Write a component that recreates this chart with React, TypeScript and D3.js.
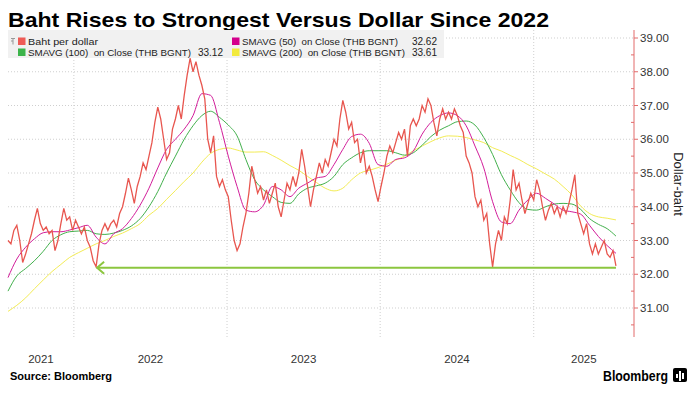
import React, { useRef, useEffect } from "react";
import * as d3 from "d3";

// weekly closes, Baht per dollar, starting 2021-07-28
const weekStart = new Date(2021, 6, 28);
const axisEnd = new Date(2025, 7, 28);

const bahtWeekly = [
  33.0, 32.9, 33.3, 33.45, 33.0, 32.35, 32.6, 32.9, 33.2, 33.6,
  33.95, 33.5, 33.3, 33.4, 33.2, 33.3, 32.7, 33.0, 33.5, 33.95,
  33.6, 33.7, 33.3, 33.6, 33.4, 33.2, 33.4, 33.0, 32.8, 32.4,
  32.22, 32.9, 33.3, 33.5, 33.3, 33.5, 33.6, 33.4, 33.8, 34.0,
  34.4, 34.85, 34.5, 34.1, 34.6, 34.9, 35.3, 35.1, 35.5, 35.9,
  36.5, 36.95, 36.6, 36.0, 35.4, 35.6, 36.3, 36.6, 37.0, 36.6,
  37.3, 37.9, 38.4, 38.0, 38.3, 37.9, 37.6, 37.2, 36.0, 35.6,
  36.1, 34.9, 34.6, 34.8, 34.5, 34.3, 33.6, 33.0, 32.7, 32.9,
  33.4, 33.8, 34.4, 35.2, 34.8, 34.4, 34.6, 34.2, 34.5, 34.1,
  34.4, 34.7, 34.0, 33.7, 34.2, 34.7, 34.5, 34.9, 34.6, 35.0,
  35.7, 35.2, 34.6, 34.0, 34.5, 34.9, 35.3, 35.0, 35.4, 35.2,
  35.6, 36.0, 35.8, 36.6, 37.15, 36.8, 36.3, 36.5, 35.9, 36.0,
  35.3, 35.7, 35.0, 35.2, 34.9, 34.5, 34.15, 34.6, 35.0, 35.5,
  35.8, 35.6, 35.9, 36.2, 36.0, 36.3, 35.5, 36.4, 36.6, 36.4,
  36.6, 37.0, 36.8, 37.2, 37.0, 36.5, 36.1, 36.6, 36.9, 36.6,
  36.8, 36.6, 36.9, 36.7, 36.4, 36.2, 35.5, 35.3, 35.0, 34.3,
  34.0, 34.2, 33.6, 33.8, 32.9, 32.22, 32.9, 33.3, 33.0, 33.7,
  33.5, 34.2, 35.1, 34.5, 34.7, 34.2, 33.8, 34.1, 34.4, 34.2,
  34.8, 34.5, 34.0, 33.6, 33.9, 34.1, 33.8, 34.0, 33.7, 34.0,
  33.8, 34.1, 34.5, 34.95, 33.8, 33.5, 33.2, 33.5, 32.9, 32.6,
  32.9, 32.6, 32.8, 33.0, 32.6, 32.5, 32.7, 32.25
];

// moving averages, one reading every third week
const sma50 = [
  31.9, 32.45, 32.8, 33.05, 33.23, 33.26, 33.26, 33.31, 33.38, 33.45,
  33.1, 32.9, 33.2, 33.35, 33.65, 34.05, 34.55, 35.15, 35.7, 36.0,
  36.3, 36.7, 37.35, 37.3, 36.5, 35.5, 34.6, 33.9, 33.85, 34.05,
  34.6, 34.5, 34.3, 34.55, 34.7, 34.85, 34.9, 35.25, 35.7, 36.08,
  36.15, 35.88, 35.25, 35.2, 35.4, 35.45, 35.65, 36.15, 36.5, 36.7,
  36.78, 36.7, 36.4, 35.8, 35.15, 34.15, 33.55, 33.5, 33.9, 34.2,
  34.4, 34.25, 34.08, 33.9, 33.85, 33.78, 33.45, 33.12, 32.85, 32.62
];
const sma100 = [
  31.5, 31.95, 32.17, 32.4, 32.68, 33.0, 33.17, 33.26, 33.28, 33.3,
  33.2, 33.18, 33.22, 33.3, 33.43, 33.65, 34.0, 34.45, 35.0, 35.5,
  36.0, 36.4, 36.7, 36.83, 36.65, 36.42, 36.1, 35.4, 34.8, 34.5,
  34.3, 34.13, 34.1, 34.38, 34.55, 34.62, 34.7, 34.9, 35.25, 35.45,
  35.6, 35.66, 35.66, 35.66, 35.6, 35.53, 35.6, 35.82, 36.08, 36.27,
  36.4, 36.52, 36.54, 36.42, 36.05, 35.55, 34.95, 34.5, 34.12, 33.92,
  33.9, 34.0, 34.08, 34.1, 34.08, 33.92, 33.65, 33.48, 33.35, 33.13
];
const sma200 = [
  30.9, 31.08, 31.3, 31.57, 31.83, 32.08, 32.29, 32.5, 32.64, 32.77,
  32.9, 33.0, 33.12, 33.22, 33.35, 33.5, 33.75, 33.95, 34.22, 34.48,
  34.75, 35.0, 35.32, 35.58, 35.7, 35.74, 35.68, 35.62, 35.62, 35.63,
  35.52, 35.38, 35.22, 35.08, 34.9, 34.72, 34.55, 34.47, 34.55, 34.8,
  35.0, 35.08, 35.16, 35.26, 35.38, 35.5, 35.66, 35.8, 35.93, 36.04,
  36.1, 36.09, 36.05, 35.98, 35.9, 35.75, 35.65, 35.52, 35.4, 35.25,
  35.12, 34.97, 34.82, 34.6, 34.35, 34.02, 33.8, 33.7, 33.66, 33.61
];

const yTicks = [31, 32, 33, 34, 35, 36, 37, 38, 39];
const yearLabels = ["2021", "2022", "2023", "2024", "2025"];

// Feb 2022 low, carried to the latest reading
const lowWeek = 30;
const lowLevel = 32.19;

const legendLabels = [
  "Baht per dollar",
  "SMAVG (50)  on Close (THB BGNT)",
  "SMAVG (100)  on Close (THB BGNT)",
  "SMAVG (200)  on Close (THB BGNT)",
];
const legendValues = ["", "32.62", "33.12", "33.61"];
const legendColors = ["#ee5b55", "#d4008c", "#3cb44a", "#f2ea3c"];

const Chart = () => {
  const svgRef = useRef<SVGSVGElement>(null);

  useEffect(() => {
    const W = 692, H = 394;
    const left = 8, right = 634, top = 30, bottom = 337;
    const font = "'Liberation Sans', Arial, sans-serif";

    const svg = d3.select(svgRef.current).attr("width", W).attr("height", H);
    svg.selectAll("*").remove();

    const x = d3.scaleTime().domain([weekStart, axisEnd]).range([left, right]);
    const y = d3.scaleLinear().domain([31, 39]).range([308, 38]);

    const weekDate = (i: number) => d3.timeDay.offset(weekStart, i * 7);

    // title
    svg.append("text")
      .attr("x", 8).attr("y", 27)
      .attr("font-family", font).attr("font-weight", "bold")
      .attr("font-size", 21).attr("textLength", 541)
      .attr("lengthAdjust", "spacingAndGlyphs")
      .attr("fill", "#000")
      .text("Baht Rises to Strongest Versus Dollar Since 2022");

    // grid
    const grid = svg.append("g").attr("stroke", "#cfcfcf").attr("stroke-dasharray", "1,2");
    grid.selectAll("line.h").data(yTicks).enter().append("line")
      .attr("x1", left).attr("x2", right)
      .attr("y1", d => y(d)).attr("y2", d => y(d));
    const yearStarts = yearLabels.map(s => new Date(+s, 0, 1));
    grid.selectAll("line.v").data(yearStarts.filter(d => x(d) > left)).enter().append("line")
      .attr("x1", d => x(d)).attr("x2", d => x(d))
      .attr("y1", top).attr("y2", bottom);

    // moving averages
    const maLine = d3.line<number>()
      .x((_, i) => x(weekDate(i * 3)))
      .y(d => y(d))
      .curve(d3.curveMonotoneX);
    const mas: [number[], string][] = [
      [sma200, "#f3ec55"],
      [sma100, "#42b04c"],
      [sma50, "#d21d9a"],
    ];
    mas.forEach(([vals, col]) => {
      svg.append("path").attr("d", maLine(vals))
        .attr("fill", "none").attr("stroke", col).attr("stroke-width", 1);
    });

    // price
    const priceLine = d3.line<number>()
      .x((_, i) => x(weekDate(i)))
      .y(d => y(d));
    svg.append("path").attr("d", priceLine(bahtWeekly))
      .attr("fill", "none").attr("stroke", "#e8564f")
      .attr("stroke-width", 1.3).attr("stroke-linejoin", "miter");

    // arrow back to the 2022 low
    const ax0 = x(weekDate(lowWeek)) + 1;
    const ax1 = x(weekDate(bahtWeekly.length - 1));
    const ay = y(lowLevel);
    const arrow = svg.append("g").attr("stroke", "#8cc63f").attr("stroke-width", 2).attr("fill", "none");
    arrow.append("line").attr("x1", ax0).attr("x2", ax1).attr("y1", ay).attr("y2", ay);
    arrow.append("path").attr("d", `M${ax0 + 7},${ay - 6}L${ax0},${ay}L${ax0 + 7},${ay + 6}`);

    // legend
    const lg = svg.append("g");
    lg.append("rect").attr("x", 8).attr("y", 30).attr("width", 436).attr("height", 28).attr("fill", "#f1f1f1");
    const lx = [28, 242, 28, 242];
    const ly = [45, 45, 56, 56];
    const lw = [70, 156, 163, 163];
    const vx = [0, 437, 223, 437];
    legendLabels.forEach((lab, i) => {
      lg.append("rect").attr("x", lx[i] - 10).attr("y", ly[i] - 7.5)
        .attr("width", 7.5).attr("height", 7.5).attr("fill", legendColors[i]);
      lg.append("text").attr("x", lx[i]).attr("y", ly[i])
        .attr("font-family", font).attr("font-size", 9.3).attr("fill", "#222")
        .attr("textLength", lw[i]).attr("lengthAdjust", "spacingAndGlyphs")
        .style("white-space", "pre").text(lab);
      if (legendValues[i]) {
        lg.append("text").attr("x", vx[i]).attr("y", ly[i]).attr("text-anchor", "end")
          .attr("font-family", font).attr("font-size", 10).attr("fill", "#222")
          .text(legendValues[i]);
      }
    });
    // little bar icon in front of the price entry
    lg.append("path").attr("d", "M11,38.5H15M13,38.5V44.5M11,41H13")
      .attr("stroke", "#999").attr("stroke-width", 1).attr("fill", "none");

    // right axis
    const axisCol = "#e26a6a";
    const ax = svg.append("g");
    ax.append("line").attr("x1", right).attr("x2", right).attr("y1", top).attr("y2", bottom)
      .attr("stroke", axisCol);
    ax.selectAll("line.t").data(yTicks).enter().append("line")
      .attr("x1", right).attr("x2", right + 4)
      .attr("y1", d => y(d)).attr("y2", d => y(d)).attr("stroke", axisCol);
    ax.selectAll("line.m").data(yTicks.map(d => d - 0.5).concat([39.5]).filter(d => y(d) > top && y(d) < bottom))
      .enter().append("line")
      .attr("x1", right - 3).attr("x2", right)
      .attr("y1", d => y(d)).attr("y2", d => y(d)).attr("stroke", axisCol);
    ax.selectAll("text").data(yTicks).enter().append("text")
      .attr("x", right + 6).attr("y", d => y(d) + 4)
      .attr("font-family", font).attr("font-size", 11.5).attr("fill", "#333")
      .text(d => d3.format(".2f")(d));
    svg.append("text")
      .attr("transform", `translate(674,${184}) rotate(90)`)
      .attr("text-anchor", "middle")
      .attr("font-family", font).attr("font-size", 13).attr("fill", "#222")
      .text("Dollar-baht");

    // year labels
    svg.selectAll("text.year").data(yearStarts).enter().append("text")
      .attr("x", d => {
        const a = Math.max(x(d), left);
        const next = new Date(d.getFullYear() + 1, 0, 1);
        const b = Math.min(x(next), right);
        return (a + b) / 2;
      })
      .attr("y", 363).attr("text-anchor", "middle")
      .attr("font-family", font).attr("font-size", 11.5).attr("fill", "#333")
      .text((_, i) => yearLabels[i]);

    // footer
    svg.append("text").attr("x", 10).attr("y", 380)
      .attr("font-family", font).attr("font-weight", "bold").attr("font-size", 11)
      .attr("fill", "#000").text("Source: Bloomberg");
    svg.append("text").attr("x", 668).attr("y", 381).attr("text-anchor", "end")
      .attr("font-family", font).attr("font-weight", "bold").attr("font-size", 14)
      .attr("textLength", 65).attr("lengthAdjust", "spacingAndGlyphs")
      .attr("fill", "#000").text("Bloomberg");
    const logo = svg.append("g").attr("transform", "translate(673,368)");
    logo.append("rect").attr("width", 14).attr("height", 14).attr("rx", 2).attr("fill", "#000");
    [[3, 6, 8], [6, 3, 11], [9, 5, 9]].forEach(([bx, by, bh]) => {
      logo.append("rect").attr("x", bx).attr("y", by).attr("width", 2).attr("height", bh - by + 2).attr("fill", "#fff");
    });
  }, []);

  return (
    <svg ref={svgRef} style={{ position: "absolute", left: 0, top: 0, background: "#fff" }}></svg>
  );
};

export default function App() {
  return <Chart />;
}
